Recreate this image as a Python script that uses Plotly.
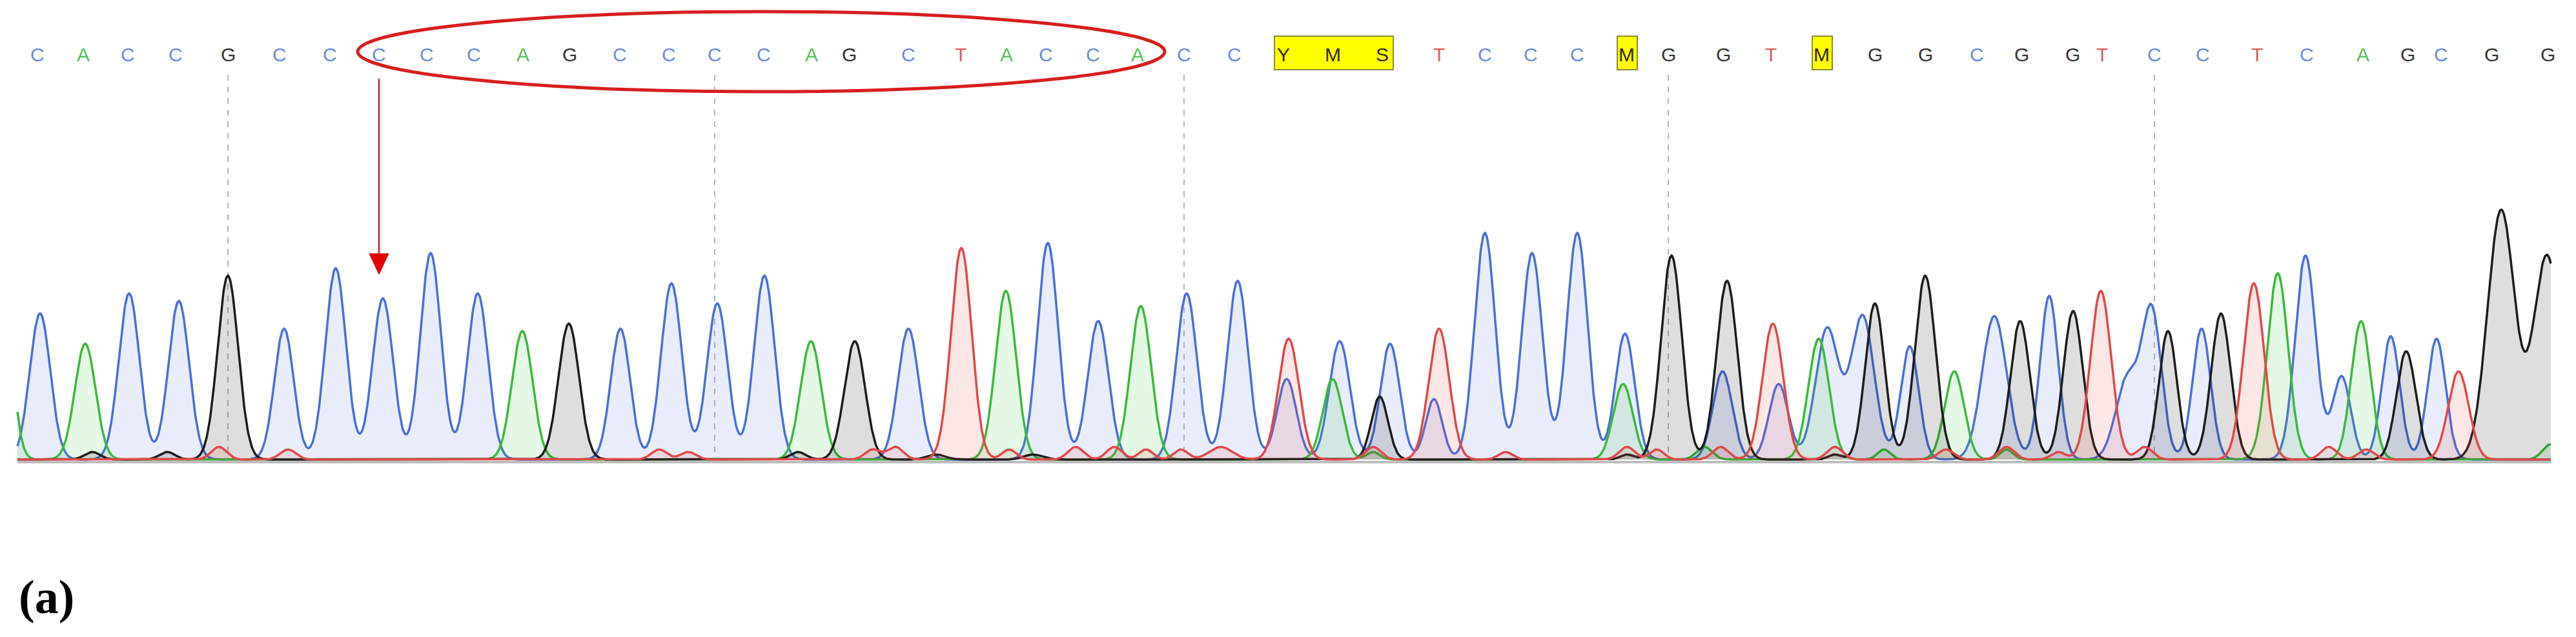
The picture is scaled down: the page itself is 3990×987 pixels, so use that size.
import numpy as np
import plotly.graph_objects as go

# ---------------- data ----------------
# base calls and their positions along the trace (scan units)
bases = list("CACCGCCCCCAGCCCCAGCTACCACCYMSTCCCMGGTMGGCGGTCCTCAGCGG")
base_pos = [58, 129, 198, 272, 353, 433, 511, 587, 661, 734, 810, 882, 960, 1036, 1107,
            1183, 1257, 1315, 1407, 1488, 1559, 1620, 1693, 1762, 1834, 1912, 1988, 2064,
            2141, 2229, 2300, 2371, 2443, 2519, 2584, 2669, 2743, 2821, 2904, 2982, 3062,
            3131, 3210, 3256, 3337, 3412, 3496, 3573, 3660, 3729, 3781, 3859, 3946]

# peaks of each dye channel: position, height (signal units), width (sigma)
C_pos = [62, 200, 277, 440, 520, 593, 667, 740, 961, 1040, 1111, 1184, 1407, 1623, 1701,
         1838, 1917, 1993, 2075, 2153, 2221, 2300, 2373, 2443, 2517, 2668, 2755, 2830, 2885,
         2958, 3089, 3174, 3295, 3333, 3410, 3571, 3627, 3703, 3774]
C_h = [58, 66, 63, 52, 76, 64, 82, 66, 52, 70, 62, 73, 52, 86, 55,
       66, 71, 32, 47, 46, 24, 90, 82, 90, 50, 35, 30, 52, 57,
       45, 57, 65, 32, 58, 52, 81, 33, 49, 48]
C_w = [16, 16, 16, 15, 16, 16, 16, 16, 15, 16, 16, 16, 16, 16, 16,
       16, 16, 15, 16, 15, 13, 16, 16, 16, 15, 15, 15, 18, 18,
       14, 19, 14, 18, 15, 14, 16, 14, 14, 14]

A_pos = [5, 132, 809, 1256, 1558, 1767, 2064, 2127, 2514, 2640, 2817, 2918, 3027, 3108,
         3528, 3657, 3950]
A_h = [65, 46, 51, 47, 67, 61, 32, 3, 30, 5, 48, 4, 35, 4, 74, 55, 6]
A_w = [14, 16, 16, 16, 16, 16, 15, 10, 15, 12, 16, 10, 15, 10, 16, 15, 12]

G_pos = [143, 259, 353, 881, 1236, 1324, 1450, 1600, 2137, 2520, 2589, 2675, 2842, 2904,
         2982, 3129, 3211, 3358, 3440, 3727, 3874, 3945]
G_h = [3, 3, 73, 54, 3, 47, 2, 2, 25, 2, 81, 71, 2, 62, 73, 55, 59, 51, 58, 43, 99, 81]
G_w = [12, 12, 16, 16, 12, 16, 14, 14, 13, 10, 16, 16, 10, 15, 16, 15, 15, 14, 15, 15, 21, 21]

T_pos = [339, 446, 1021, 1066, 1352, 1387, 1489, 1563, 1666, 1726, 1775, 1829, 1891, 1996,
         2127, 2229, 2332, 2520, 2566, 2665, 2746, 2842, 3014, 3108, 3188, 3254, 3322,
         3491, 3607, 3665, 3808]
T_h = [5, 4, 4, 3, 4, 5, 84, 4, 5, 5, 4, 4, 5, 48,
       5, 52, 3, 5, 4, 5, 54, 5, 4, 5, 3, 67, 5,
       70, 5, 4, 35]
T_w = [12, 12, 12, 12, 12, 12, 16, 11, 12, 12, 11, 11, 18, 16,
       12, 16, 11, 12, 11, 12, 16, 12, 12, 12, 11, 16, 12,
       16, 12, 12, 16]

trace_start, trace_end = 27, 3951
mixed_groups = [(26, 28), (33, 33), (37, 37)]   # index ranges of ambiguous calls (Y M S, M, M)
marked_base = 7                                  # arrow
ellipse_bases = (7, 23)                          # bases inside the ellipse

# ---------------- styles ----------------
W, H = 3990, 987
BASE_PX = 712          # pixel row of the trace baseline
PX_PER_UNIT = 3.9
LETTER_Y = 84

line_col = {"A": "#3db83d", "C": "#4a6fd6", "G": "#1c1c1c", "T": "#e04848"}
fill_col = {"A": "rgba(70,200,70,0.14)", "C": "rgba(110,135,230,0.15)",
            "G": "rgba(0,0,0,0.13)", "T": "rgba(235,70,70,0.13)"}
letter_col = {"A": "#52c452", "C": "#6d8ad9", "G": "#333333", "T": "#e25a5a"}

x = np.arange(trace_start, trace_end + 1, 1.0)


def channel(pos, h, w):
    y = np.zeros_like(x)
    for p, hh, ww in zip(pos, h, w):
        y += hh * np.exp(-0.5 * ((x - p) / ww) ** 2)
    return y


fig = go.Figure()
for key, (p, h, w) in [("C", (C_pos, C_h, C_w)), ("A", (A_pos, A_h, A_w)),
                       ("G", (G_pos, G_h, G_w)), ("T", (T_pos, T_h, T_w))]:
    fig.add_trace(go.Scatter(x=x, y=channel(p, h, w), mode="lines", fill="tozeroy",
                             line=dict(color=line_col[key], width=3.5),
                             fillcolor=fill_col[key], hoverinfo="skip", showlegend=False))

shapes = []
# baseline strip
shapes.append(dict(type="line", xref="x", yref="y2", x0=trace_start, x1=trace_end,
                   y0=BASE_PX + 4, y1=BASE_PX + 4, line=dict(color="#bdbdbd", width=4),
                   layer="below"))
# dashed guide lines every 10th base
for i in range(4, len(bases), 10):
    shapes.append(dict(type="line", xref="x", yref="y2", x0=base_pos[i], x1=base_pos[i],
                       y0=116, y1=BASE_PX - 8, line=dict(color="#b5b5b5", width=2, dash="dash"),
                       layer="below"))
# yellow boxes for ambiguous calls
for a, b in mixed_groups:
    shapes.append(dict(type="rect", xref="x", yref="y2", x0=base_pos[a] - 14, x1=base_pos[b] + 17,
                       y0=56, y1=108, fillcolor="#ffff00", line=dict(color="#8c8c3a", width=2),
                       layer="below"))
# red ellipse
ea, eb = ellipse_bases
shapes.append(dict(type="circle", xref="x", yref="y2", x0=base_pos[ea] - 33, x1=base_pos[eb] + 42,
                   y0=18, y1=142, line=dict(color="#d61e1e", width=5)))
# red arrow
ax = base_pos[marked_base]
shapes.append(dict(type="line", xref="x", yref="y2", x0=ax, x1=ax, y0=122, y1=400,
                   line=dict(color="#d81818", width=2.5)))
shapes.append(dict(type="path", xref="x", yref="y2",
                   path=f"M {ax-15},393 L {ax+15},393 L {ax},425 Z",
                   fillcolor="#e00000", line=dict(color="#e00000", width=1)))

annotations = []
for b, p in zip(bases, base_pos):
    col = letter_col.get(b, "#2b2b10")
    annotations.append(dict(x=p, y=LETTER_Y, xref="x", yref="y2", text=b, showarrow=False,
                            font=dict(family="Liberation Sans, Arial, sans-serif", size=30,
                                      color=col),
                            xanchor="center", yanchor="middle"))
annotations.append(dict(x=27, y=925, xref="x", yref="y2", text="<b>(a)</b>", showarrow=False,
                        font=dict(family="Liberation Serif, DejaVu Serif, serif", size=74,
                                  color="#000000"),
                        xanchor="left", yanchor="middle"))

fig.update_layout(
    width=W, height=H, margin=dict(l=0, r=0, t=0, b=0),
    paper_bgcolor="white", plot_bgcolor="white",
    xaxis=dict(range=[0, W], visible=False, fixedrange=True),
    yaxis=dict(range=[-(H - BASE_PX) / PX_PER_UNIT, BASE_PX / PX_PER_UNIT], visible=False,
               fixedrange=True),
    yaxis2=dict(range=[H, 0], overlaying="y", visible=False, fixedrange=True),
    shapes=shapes, annotations=annotations, showlegend=False,
)
# a dummy trace to activate yaxis2
fig.add_trace(go.Scatter(x=[None], y=[None], yaxis="y2", showlegend=False))

fig.write_html("out.html", post_script="document.body.style.margin='0';",
               config={"displayModeBar": False})
